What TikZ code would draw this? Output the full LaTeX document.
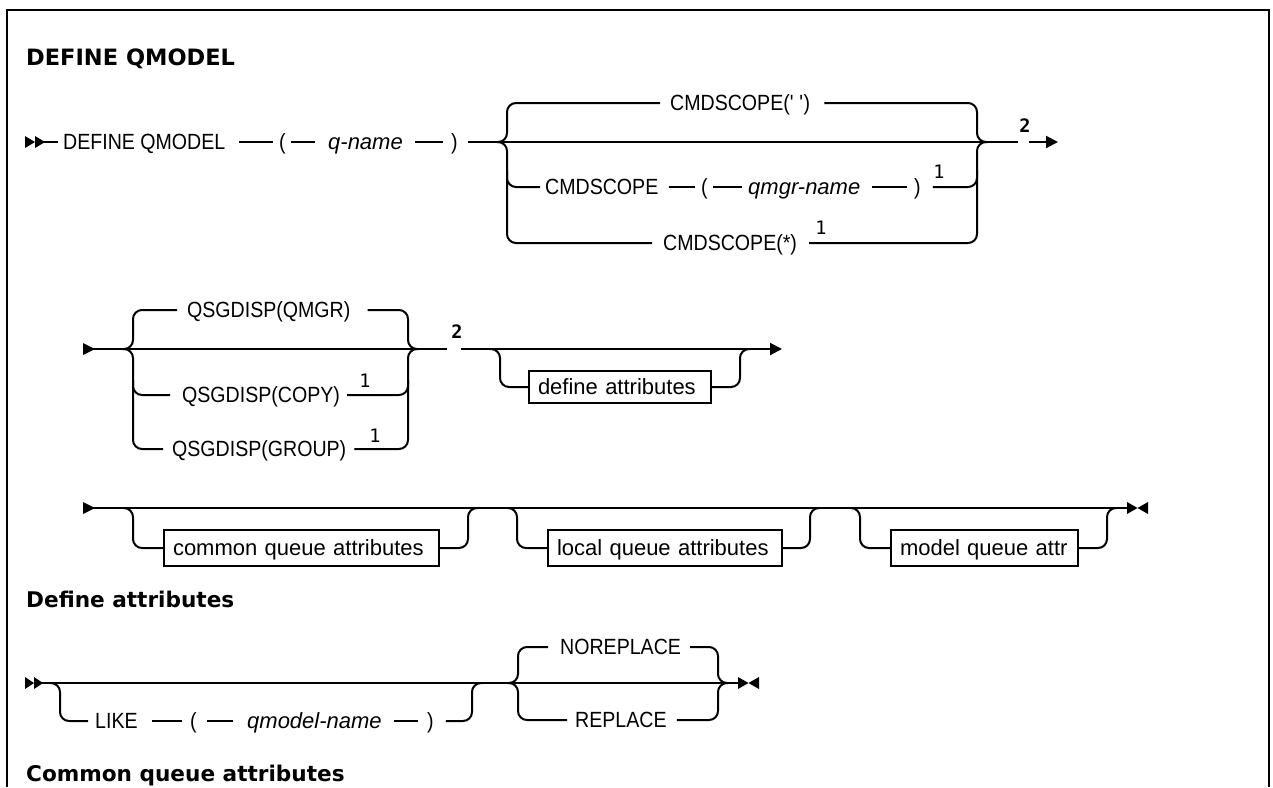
\documentclass[tikz,border=0pt]{standalone}
\usepackage{fontspec}
\setmainfont{Liberation Sans}
\newfontfamily\headfont{DejaVu Sans}
\newfontfamily\notefont{DejaVu Sans Mono}
\newfontfamily\capfont{Liberation Sans}[FakeStretch=0.89]
\usetikzlibrary{arrows.meta}
\begin{document}
\begin{tikzpicture}[x=1pt,y=-1pt,
  seg/.style={line width=2pt},
  rail/.style={line width=2pt, rounded corners=9pt},
  endtip/.style={-{Triangle[length=12pt,width=12pt]}},
  tx/.style={inner sep=0pt, text height=15pt, text depth=0pt, anchor=west, font=\capfont\fontsize{22}{26}\selectfont},
  itx/.style={tx, font=\itshape\fontsize{22}{26}\selectfont},
  bx/.style={draw, line width=2pt, inner xsep=9pt, inner ysep=0pt, anchor=west, align=left,
    text height=16pt, text depth=1pt, font=\fontsize{22}{26}\selectfont},
  note/.style={inner sep=0pt, anchor=base, font=\notefont\fontsize{18.5}{22}\selectfont},
  note2/.style={note, font=\notefont\bfseries\fontsize{18.5}{22}\selectfont},
  headA/.style={inner sep=0pt, anchor=base west, font=\headfont\bfseries\fontsize{22.5}{26}\selectfont},
  headB/.style={inner sep=0pt, anchor=base west, font=\headfont\bfseries\fontsize{21.6}{25}\selectfont}
]
\useasboundingbox (0,0) rectangle (1273,787);
\fill[white] (0,0) rectangle (1273,787);
% frame
\draw[line width=2.5pt] (7,787) -- (7,10) -- (1269,10) -- (1269,787);

% headings
\node[headA] (h1) at (26,65) {DEFINE QMODEL};
\node[headB] (h2) at (26,607) {Define attributes};
\node[headB] (h3) at (26,781) {Common queue attributes};

% ---------------- Row 1 ----------------
\fill (25,136) -- (35,142) -- (25,148) -- cycle;
\fill (35,136) -- (45,142) -- (35,148) -- cycle;
\coordinate (s1) at (40,142);
\node[tx] (d1) at (63,142) {DEFINE QMODEL};
\node[tx] (lp1) at (279,142) {(};
\node[itx] (qn) at (328,142) {q-name};
\node[tx] (rp1) at (451,142) {)};
\draw[seg] (s1) -- ([xshift=-5pt]d1.west);
\draw[seg] ([xshift=13pt]d1.east) -- ([xshift=-6pt]lp1.west);
\draw[seg] ([xshift=5pt]lp1.east) -- ([xshift=-13pt]qn.west);
\draw[seg] ([xshift=12pt]qn.east) -- ([xshift=-8pt]rp1.west);
\coordinate (b1l) at (507,142);
\coordinate (b1r) at (977,142);
\coordinate (g1a) at (1018,142);
\coordinate (g1b) at (1029,142);
\coordinate (e1) at (1058,142);
\draw[seg] ([xshift=10pt]rp1.east) -- (g1a);
\node[note2] (f1) at (1025,132) {2};
\draw[seg,endtip] (g1b) -- (e1);

\node[tx] (c1) at (670,103) {CMDSCOPE(\textquotesingle\ \textquotesingle)};
\draw[rail] ([xshift=-10pt]b1l) -- (b1l) -- (b1l |- c1.west) -- ([xshift=-10pt]c1.west);
\draw[rail] ([xshift=14pt]c1.east) -- (b1r |- c1.east) -- (b1r) -- ([xshift=10pt]b1r);

\node[tx] (c2) at (545,187) {CMDSCOPE};
\node[tx] (lp2) at (701,187) {(};
\node[itx] (qm) at (748,187) {qmgr-name};
\node[tx] (rp2) at (914,187) {)};
\node[note] (f2) at (939,178) {1};
\coordinate (v1a) at (507,170);
\coordinate (v1b) at (977,170);
\draw[rail] (v1a) -- (b1l |- c2.west) -- ([xshift=-5pt]c2.west);
\draw[seg] ([xshift=10pt]c2.east) -- ([xshift=-6pt]lp2.west);
\draw[seg] ([xshift=5pt]lp2.east) -- ([xshift=-6pt]qm.west);
\draw[seg] ([xshift=12pt]qm.east) -- ([xshift=-7pt]rp2.west);
\draw[rail] ([xshift=12pt]rp2.east) -- (b1r |- rp2.east) -- (v1b);

\node[tx] (c3) at (663,243) {CMDSCOPE(*)};
\node[note] (f3) at (821,234) {1};
\draw[rail] ([xshift=-10pt]b1l) -- (b1l) -- (b1l |- c3.west) -- ([xshift=-11pt]c3.west);
\draw[rail] ([xshift=12pt]c3.east) -- (b1r |- c3.east) -- (b1r) -- ([xshift=10pt]b1r);

% ---------------- Row 2 ----------------
\fill (83,343) -- (95,349) -- (83,355) -- cycle;
\coordinate (s2) at (90,349);
\coordinate (b2l) at (133,349);
\coordinate (b2r) at (408,349);
\coordinate (g2a) at (447,349);
\coordinate (g2b) at (461,349);
\coordinate (e2) at (782,349);
\draw[seg] (s2) -- (g2a);
\node[note2] (f6) at (457,338) {2};
\draw[seg,endtip] (g2b) -- (e2);

\node[tx] (q1) at (187,310) {QSGDISP(QMGR)};
\node[tx] (q2) at (182,395) {QSGDISP(COPY)};
\node[tx] (q3) at (172,449) {QSGDISP(GROUP)};
\node[note] (f4) at (365,387) {1};
\node[note] (f5) at (375,442) {1};
\draw[rail] ([xshift=-10pt]b2l) -- (b2l) -- (b2l |- q1.west) -- ([xshift=-10pt]q1.west);
\draw[rail] ([xshift=17pt]q1.east) -- (b2r |- q1.east) -- (b2r) -- ([xshift=10pt]b2r);
\draw[rail] ([xshift=-10pt]b2l) -- (b2l) -- (b2l |- q3.west) -- ([xshift=-9pt]q3.west);
\draw[rail] ([xshift=8pt]q3.east) -- (b2r |- q3.east) -- (b2r) -- ([xshift=10pt]b2r);
\coordinate (v2a) at (133,380);
\coordinate (v2b) at (408,380);
\draw[rail] (v2a) -- (b2l |- q2.west) -- ([xshift=-12pt]q2.west);
\draw[rail] ([xshift=7pt]q2.east) -- (b2r |- q2.east) -- (v2b);

\coordinate (b3l) at (500,349);
\coordinate (b3r) at (740,349);
\node[bx, text width=164pt, minimum height=32pt] (da) at (528,387) {define attributes};
\draw[rail] ([xshift=-10pt]b3l) -- (b3l) -- (b3l |- da.west) -- (da.west);
\draw[rail] (da.east) -- (b3r |- da.east) -- (b3r) -- ([xshift=10pt]b3r);

% ---------------- Row 3 ----------------
\fill (83,502) -- (95,508) -- (83,514) -- cycle;
\coordinate (s3) at (90,508);
\coordinate (e3) at (1127,508);
\draw[seg] (s3) -- (e3);
\fill (1127,502) -- (1137.5,508) -- (1127,514) -- cycle;
\fill (1148,502) -- (1137.5,508) -- (1148,514) -- cycle;

\node[bx, text width=257pt, minimum height=36pt] (ca) at (163,548) {common queue attributes};
\node[bx, text width=216pt, minimum height=36pt] (la) at (547,548) {local queue attributes};
\node[bx, text width=169pt, minimum height=36pt] (ma) at (890,548) {model queue attr};
\coordinate (b5a) at (133,508);
\coordinate (b5b) at (468,508);
\coordinate (b6a) at (517,508);
\coordinate (b6b) at (810,508);
\coordinate (b7a) at (860,508);
\coordinate (b7b) at (1107,508);
\draw[rail] ([xshift=-10pt]b5a) -- (b5a) -- (b5a |- ca.west) -- (ca.west);
\draw[rail] (ca.east) -- (b5b |- ca.east) -- (b5b) -- ([xshift=10pt]b5b);
\draw[rail] ([xshift=-10pt]b6a) -- (b6a) -- (b6a |- la.west) -- (la.west);
\draw[rail] (la.east) -- (b6b |- la.east) -- (b6b) -- ([xshift=10pt]b6b);
\draw[rail] ([xshift=-10pt]b7a) -- (b7a) -- (b7a |- ma.west) -- (ma.west);
\draw[rail] (ma.east) -- (b7b |- ma.east) -- (b7b) -- ([xshift=10pt]b7b);

% ---------------- Define attributes row ----------------
\fill (25,677) -- (34,683) -- (25,689) -- cycle;
\fill (34,677) -- (43,683) -- (34,689) -- cycle;
\coordinate (s4) at (38,683);
\coordinate (e4) at (738,683);
\draw[seg] (s4) -- (e4);
\fill (738,677) -- (748.5,683) -- (738,689) -- cycle;
\fill (759,677) -- (748.5,683) -- (759,689) -- cycle;

\coordinate (b8a) at (60,683);
\coordinate (b8b) at (472,683);
\node[tx] (lk) at (95,721) {LIKE};
\node[tx] (lp3) at (190,721) {(};
\node[itx] (qmn) at (247,721) {qmodel-name};
\node[tx] (rp3) at (427,721) {)};
\draw[rail] ([xshift=-10pt]b8a) -- (b8a) -- (b8a |- lk.west) -- ([xshift=-7pt]lk.west);
\draw[seg] ([xshift=14pt]lk.east) -- ([xshift=-8pt]lp3.west);
\draw[seg] ([xshift=10pt]lp3.east) -- ([xshift=-14pt]qmn.west);
\draw[seg] ([xshift=12pt]qmn.east) -- ([xshift=-9pt]rp3.west);
\draw[rail] ([xshift=12pt]rp3.east) -- (b8b |- rp3.east) -- (b8b) -- ([xshift=10pt]b8b);

\coordinate (b9a) at (518,683);
\coordinate (b9b) at (718,683);
\node[tx] (nr) at (560,647) {NOREPLACE};
\node[tx] (rep) at (575,720) {REPLACE};
\draw[rail] ([xshift=-10pt]b9a) -- (b9a) -- (b9a |- nr.west) -- ([xshift=-12pt]nr.west);
\draw[rail] ([xshift=9pt]nr.east) -- (b9b |- nr.east) -- (b9b) -- ([xshift=10pt]b9b);
\draw[rail] ([xshift=-10pt]b9a) -- (b9a) -- (b9a |- rep.west) -- ([xshift=-8pt]rep.west);
\draw[rail] ([xshift=10pt]rep.east) -- (b9b |- rep.east) -- (b9b) -- ([xshift=10pt]b9b);
\end{tikzpicture}
\end{document}
